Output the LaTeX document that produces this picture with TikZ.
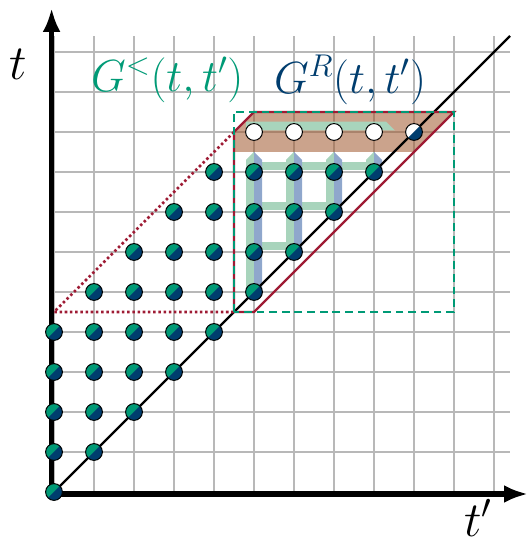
\RequirePackage{fix-cm}
\documentclass[tikz,border=0pt]{standalone}
\usepackage{xcolor}
\usetikzlibrary{arrows.meta}
\definecolor{lessgreen}{HTML}{009A76}
\definecolor{retblue}{HTML}{003D6E}
\definecolor{boundred}{HTML}{9E1B34}
\definecolor{stepbrown}{HTML}{A0582E}
\definecolor{pathgreen}{HTML}{A8D4BC}
\definecolor{pathblue}{HTML}{8FA7CC}
\definecolor{gridgray}{HTML}{B8B8B8}

\begin{document}
\begin{tikzpicture}[
    dot/.style={circle, draw=black, line width=0.7pt, fill=lessgreen, minimum size=0.42cm, inner sep=0pt,
                path picture={\fill[retblue] (path picture bounding box.south west) -- (path picture bounding box.north east) -- (path picture bounding box.south east) -- cycle;}},
    halfdot/.style={dot, fill=white},
    newdot/.style={circle, draw=black, line width=0.7pt, fill=white, minimum size=0.42cm, inner sep=0pt},
    axis/.style={line width=3.6pt, {Latex[length=0.6cm, width=0.45cm]}-{Latex[length=0.6cm, width=0.45cm]}},
    gtext/.style={font=\fontsize{32}{38}\selectfont},
    axlabel/.style={font=\fontsize{35}{42}\selectfont, inner sep=1pt}
  ]
  \useasboundingbox (-1.35,-1.3) rectangle (11.875,12.3);
  \coordinate (O) at (0,0);
  \coordinate (diagend) at (11.4,11.4);
  \coordinate (corner) at (-0.06,-0.05);
  \coordinate (ttop) at (-0.06,12.1);
  \coordinate (tpend) at (11.85,-0.05);

  \draw[gridgray, line width=0.9pt] (0,0) grid (11.4,11.4);
  \fill[stepbrown, fill opacity=0.55] (4.5,8.5) -- (9,8.5) -- (10,9.5) -- (5,9.5) -- (4.5,9) -- cycle;

  \foreach \j in {6,7,8}
    \fill[pathgreen] (4.8,\j+0.04) rectangle (\j,\j+0.26);
  \fill[pathgreen] (4.8,9.04) -- (4.8,9.26) -- (8.3,9.26) -- (8.52,9.04) -- cycle;
  \foreach \i in {5,...,8} {
    \fill[pathgreen] (\i-0.2,\i) -- (\i-0.2,8.3) -- (\i,8.5) -- (\i,\i) -- cycle;
    \fill[pathblue] (\i,\i) -- (\i,8.5) -- (\i+0.2,8.3) -- (\i+0.2,\i) -- cycle;
  }

  \draw[line width=1.6pt] (O) -- (diagend);
  \draw[boundred, line width=1.6pt] (4.5,4.5) -- (5,4.5) -- (10,9.5) -- (5,9.5) -- (4.5,9) -- cycle;
  \draw[boundred, line width=1.8pt, dash pattern=on 1.8pt off 1.9pt] (4.5,9) -- (0,4.5) -- (4.5,4.5);
  \draw[lessgreen, line width=1.7pt, dash pattern=on 5.5pt off 3.5pt] (4.5,4.5) rectangle (10,9.5);

  \draw[axis] (ttop) -- (corner) -- (tpend);

  \foreach \j in {0,...,8} {
    \pgfmathtruncatemacro{\first}{max(0,\j-4)}
    \foreach \i in {\first,...,\j}
      \node[dot] (d\i-\j) at (\i,\j) {};
  }
  \foreach \i in {5,...,8}
    \node[newdot] (d\i-9) at (\i,9) {};
  \node[halfdot] (d9-9) at (9,9) {};

  \node[axlabel] (tlab) at (-0.9,10.7) {$t$};
  \node[axlabel] (tplab) at (10.6,-0.64) {$t'$};
  \node[gtext, text=lessgreen] (gless) at (2.83,10.3) {$G^<(t,t')$};
  \node[gtext, text=retblue] (gret) at (7.4,10.3) {$G^R(t,t')$};
\end{tikzpicture}
\end{document}
